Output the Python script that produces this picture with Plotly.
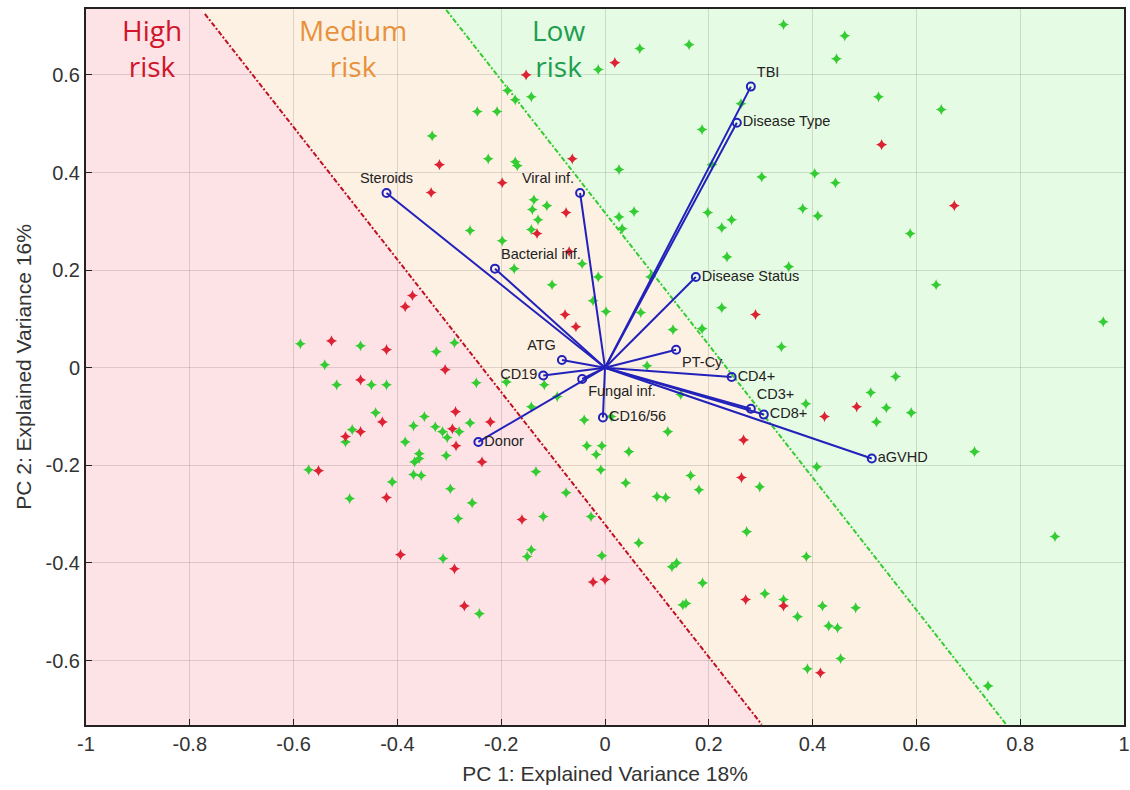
import plotly.graph_objects as go

# ---------------- data ----------------
green_x = [-0.333, 0.344, 0.462, 0.446, 0.162, 0.067, -0.013, -0.142, -0.188, -0.173,
           -0.246, -0.208, 0.527, 0.262, 0.187, 0.648, -0.225, -0.173, -0.169, 0.027,
           0.206, 0.302, 0.404, 0.444, -0.137, -0.112, -0.140, 0.056, 0.027, 0.033,
           -0.129, -0.260, -0.142, -0.198, -0.044, -0.175, -0.013, -0.102, 0.198, 0.244,
           0.225, 0.381, 0.410, 0.235, 0.354, 0.088, 0.588, 0.638, -0.587, -0.471,
           -0.290, -0.325, -0.540, -0.517, -0.450, -0.421, -0.442, -0.348, -0.369, -0.327,
           -0.313, -0.304, -0.487, -0.500, -0.385, -0.358, -0.367, -0.358, -0.306, -0.369,
           -0.354, -0.571, -0.410, -0.298, -0.492, -0.283, -0.312, -0.023, 0.002, 0.069,
           0.131, 0.187, 0.225, 0.340, -0.248, -0.190, -0.117, 0.081, -0.092, -0.142,
           -0.260, -0.281, -0.040, 0.012, 0.121, 0.146, 0.512, 0.560, 0.542, 0.523,
           0.387, 0.590, 0.960, 0.712, -0.035, -0.006, -0.017, 0.046, -0.008, -0.133,
           -0.075, 0.040, 0.165, 0.181, 0.298, 0.100, 0.117, 0.408, -0.256, -0.119,
           -0.027, 0.273, 0.065, -0.142, -0.150, -0.006, 0.138, 0.129, 0.388, 0.867,
           -0.242, 0.188, 0.150, 0.156, 0.308, 0.344, 0.371, 0.419, 0.431, 0.448,
           0.483, 0.454, 0.390, 0.738]
green_y = [0.475, 0.703, 0.680, 0.633, 0.662, 0.654, 0.611, 0.555, 0.568, 0.549,
           0.525, 0.525, 0.555, 0.541, 0.488, 0.529, 0.428, 0.422, 0.414, 0.406,
           0.416, 0.391, 0.398, 0.379, 0.344, 0.332, 0.324, 0.320, 0.309, 0.285,
           0.303, 0.281, 0.283, 0.260, 0.213, 0.203, 0.186, 0.170, 0.318, 0.303,
           0.287, 0.326, 0.311, 0.227, 0.207, 0.186, 0.275, 0.170, 0.049, 0.045,
           0.051, 0.033, 0.006, -0.035, -0.035, -0.035, -0.092, -0.100, -0.119, -0.121,
           -0.131, -0.143, -0.127, -0.152, -0.152, -0.176, -0.193, -0.186, -0.180, -0.219,
           -0.221, -0.209, -0.234, -0.248, -0.268, -0.309, -0.391, 0.137, 0.115, 0.113,
           0.078, 0.080, 0.123, 0.043, -0.031, -0.029, -0.035, 0.004, -0.059, -0.080,
           -0.113, -0.131, -0.107, -0.100, -0.131, -0.055, -0.051, -0.018, -0.082, -0.111,
           -0.074, -0.092, 0.094, -0.172, -0.160, -0.160, -0.178, -0.172, -0.209, -0.213,
           -0.256, -0.236, -0.221, -0.250, -0.244, -0.264, -0.266, -0.203, -0.277, -0.305,
           -0.305, -0.336, -0.359, -0.373, -0.387, -0.385, -0.400, -0.408, -0.387, -0.346,
           -0.504, -0.441, -0.486, -0.483, -0.463, -0.475, -0.510, -0.488, -0.529, -0.533,
           -0.492, -0.596, -0.617, -0.652]

red_x = [-0.319, -0.335, -0.371, 0.019, -0.152, 0.533, -0.063, -0.198, -0.075, -0.131,
         -0.069, 0.673, -0.385, -0.527, -0.421, -0.308, -0.471, -0.429, -0.288, -0.294,
         -0.287, -0.471, -0.500, -0.552, -0.421, -0.394, -0.290, -0.077, -0.056, 0.290,
         -0.221, 0.485, 0.423, 0.267, -0.237, 0.263, -0.160, 0.000, -0.023, -0.271,
         0.271, 0.344, 0.415]
red_y = [0.416, 0.359, 0.148, 0.625, 0.600, 0.457, 0.428, 0.379, 0.318, 0.275,
         0.238, 0.332, 0.125, 0.055, 0.037, -0.004, -0.025, -0.111, -0.090, -0.125,
         -0.160, -0.131, -0.141, -0.211, -0.266, -0.383, -0.412, 0.109, 0.084, 0.109,
         -0.111, -0.080, -0.100, -0.148, -0.193, -0.225, -0.311, -0.434, -0.439, -0.488,
         -0.475, -0.488, -0.625]

var_names = ["TBI", "Disease Type", "Viral inf.", "Bacterial inf.", "Disease Status",
             "Steroids", "ATG", "CD19", "Fungal inf.", "CD16/56", "Donor", "PT-Cy",
             "CD4+", "CD3+", "CD8+", "aGVHD"]
var_x = [0.281, 0.254, -0.048, -0.212, 0.175, -0.421, -0.083, -0.119, -0.044, -0.004,
         -0.244, 0.137, 0.244, 0.281, 0.306, 0.514]
var_y = [0.576, 0.502, 0.358, 0.203, 0.186, 0.358, 0.016, -0.016, -0.023, -0.102,
         -0.152, 0.037, -0.019, -0.084, -0.096, -0.186]

# risk boundaries (two points each)
red_bx = [-0.771, 0.302]
red_by = [0.725, -0.731]
green_bx = [-0.306, 0.773]
green_by = [0.733, -0.731]

risk_labels = ["High<br>risk", "Medium<br>risk", "Low<br>risk"]
risk_label_x = [-0.873, -0.485, -0.090]
risk_label_y = 0.656

x_ticks = [-1, -0.8, -0.6, -0.4, -0.2, 0, 0.2, 0.4, 0.6, 0.8, 1]
x_ticktext = ["-1", "-0.8", "-0.6", "-0.4", "-0.2", "0", "0.2", "0.4", "0.6", "0.8", "1"]
y_ticks = [-0.6, -0.4, -0.2, 0, 0.2, 0.4, 0.6]
y_ticktext = ["-0.6", "-0.4", "-0.2", "0", "0.2", "0.4", "0.6"]

XR = [-1, 1]
YR = [-0.732, 0.735]

# ---------------- styles ----------------
label_pos = ["top right", "middle right", "top left", "top right", "middle right",
             "top center", "top left", "middle left", "bottom right", "middle right",
             "middle right", "bottom right", "middle right", "top right", "middle right",
             "middle right"]
PINK = "#FDE2E6"
PEACH = "#FDF1E3"
LGREEN = "#E6FBE3"
PT_GREEN = "#33CC33"
PT_RED = "#DD2233"
BLUE = "#2222BB"
FONT = "Liberation Sans, Arial, sans-serif"


def x_at(bx, by, y):
    return bx[0] + (y - by[0]) * (bx[1] - bx[0]) / (by[1] - by[0])


rt, rb = x_at(red_bx, red_by, YR[1]), x_at(red_bx, red_by, YR[0])
gt, gb = x_at(green_bx, green_by, YR[1]), x_at(green_bx, green_by, YR[0])

shapes = [
    dict(type="path", xref="x", yref="y", layer="below", line=dict(width=0), fillcolor=PINK,
         path=f"M {XR[0]},{YR[0]} L {XR[0]},{YR[1]} L {rt},{YR[1]} L {rb},{YR[0]} Z"),
    dict(type="path", xref="x", yref="y", layer="below", line=dict(width=0), fillcolor=PEACH,
         path=f"M {rb},{YR[0]} L {rt},{YR[1]} L {gt},{YR[1]} L {gb},{YR[0]} Z"),
    dict(type="path", xref="x", yref="y", layer="below", line=dict(width=0), fillcolor=LGREEN,
         path=f"M {gb},{YR[0]} L {gt},{YR[1]} L {XR[1]},{YR[1]} L {XR[1]},{YR[0]} Z"),
]

fig = go.Figure()

fig.add_trace(go.Scatter(x=green_x, y=green_y, mode="markers", hoverinfo="skip",
                         marker=dict(symbol="star-diamond", size=8, color=PT_GREEN,
                                     line=dict(width=0))))
fig.add_trace(go.Scatter(x=red_x, y=red_y, mode="markers", hoverinfo="skip",
                         marker=dict(symbol="star-diamond", size=8, color=PT_RED,
                                     line=dict(width=0))))

fig.add_trace(go.Scatter(x=red_bx, y=red_by, mode="lines",
                         line=dict(color="#C01020", width=2, dash="5px,2px,2px,2px")))
fig.add_trace(go.Scatter(x=green_bx, y=green_by, mode="lines",
                         line=dict(color="#33CC33", width=2, dash="5px,2px,2px,2px")))

vx, vy = [], []
for a, b in zip(var_x, var_y):
    vx += [0, a, None]
    vy += [0, b, None]
fig.add_trace(go.Scatter(x=vx, y=vy, mode="lines", line=dict(color=BLUE, width=2)))
fig.add_trace(go.Scatter(x=var_x, y=var_y, mode="markers+text", text=var_names,
                         textposition=label_pos,
                         textfont=dict(family=FONT, size=14.5, color="#222222"),
                         marker=dict(symbol="circle-open", size=8, color=BLUE,
                                     line=dict(width=2, color=BLUE))))

risk_colors = ["#D0152B", "#E8913C", "#1E9E50"]
annotations = []
for t, x, c in zip(risk_labels, risk_label_x, risk_colors):
    annotations.append(dict(x=x, y=risk_label_y, xref="x", yref="y", text=t,
                            showarrow=False, xanchor="center", yanchor="middle",
                            font=dict(family="Open Sans, sans-serif", size=28, color=c)))

axis_common = dict(ticks="inside", ticklen=6, tickwidth=1, tickcolor="#222222",
                   showline=True, linecolor="#222222", linewidth=2, mirror=True,
                   showgrid=True, gridcolor="rgba(0,0,0,0.12)", gridwidth=1,
                   zeroline=False, ticklabeloverflow="allow", automargin=False,
                   tickfont=dict(family=FONT, size=20, color="#333333"))

fig.update_layout(
    width=1130, height=790,
    margin=dict(l=86, r=6, t=9, b=65),
    paper_bgcolor="white", plot_bgcolor="white",
    showlegend=False,
    shapes=shapes,
    annotations=annotations,
    xaxis=dict(range=XR, tickvals=x_ticks, ticktext=x_ticktext,
               title=dict(text="PC 1: Explained Variance 18%", standoff=12,
                          font=dict(family=FONT, size=21, color="#333333")),
               **axis_common),
    yaxis=dict(range=YR, tickvals=y_ticks, ticktext=y_ticktext,
               title=dict(text="PC 2: Explained Variance 16%", standoff=8,
                          font=dict(family=FONT, size=21, color="#333333")),
               **axis_common),
)

fig.write_html("out.html")
